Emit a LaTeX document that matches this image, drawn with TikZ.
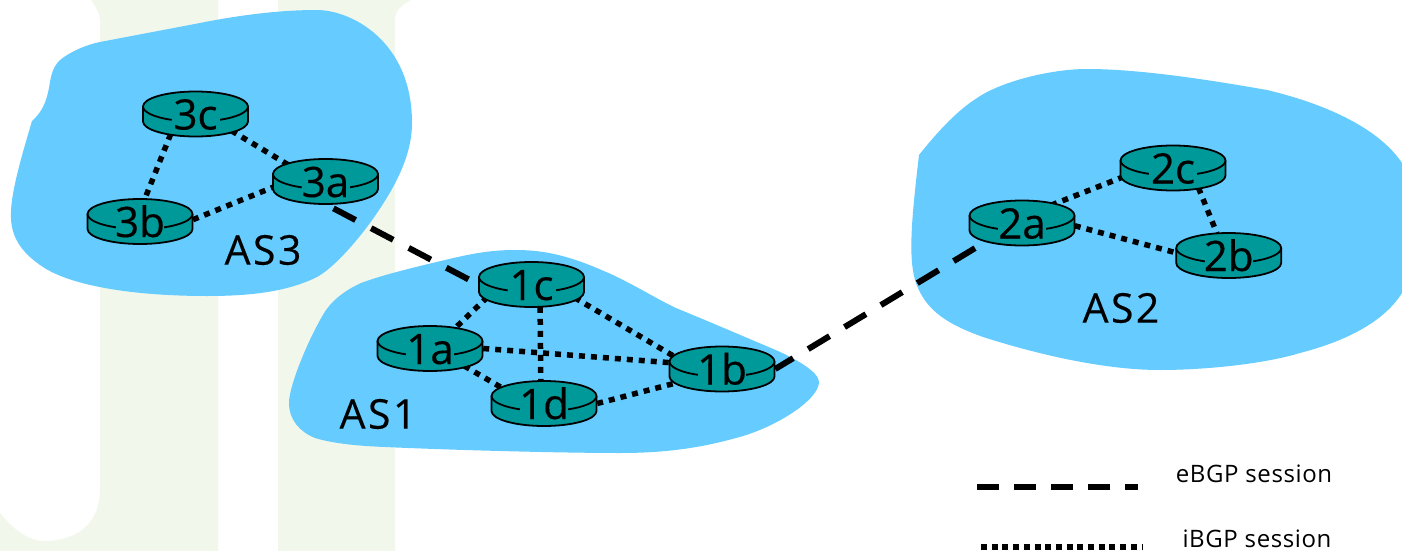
\documentclass[tikz,border=0pt]{standalone}
\usepackage{fontspec}
\setmainfont{Open Sans}
\newfontfamily\rfont[FakeBold=0.4]{Open Sans}
\newfontfamily\asfont[LetterSpace=6,FakeBold=0.3]{Open Sans}
\newfontfamily\lgfont[LetterSpace=2.5]{Open Sans}
\usetikzlibrary{shapes.geometric}
\definecolor{asblue}{HTML}{66CCFF}
\definecolor{rteal}{HTML}{009999}
\definecolor{wmark}{HTML}{F2F7EB}
\pgfdeclarelayer{ground}
\pgfdeclarelayer{links}
\pgfsetlayers{ground,links,main}
\tikzset{
  asblob/.style={fill=asblue,draw=none},
  routernode/.style={shape=ellipse,minimum width=106pt,minimum height=45pt,inner sep=0pt,
    text height=31pt,text depth=0pt,font=\rfont\fontsize{42}{42}\selectfont,text=black},
  rline/.style={draw=black,line width=1.8pt},
  ebgp/.style={draw=black,line width=6pt,dash pattern=on 25pt off 17.5pt},
  ibgp/.style={draw=black,line width=5.5pt,dash pattern=on 6pt off 6pt},
  aslabel/.style={font=\asfont\fontsize{41}{41}\selectfont,inner sep=0pt},
  legendlabel/.style={font=\lgfont\fontsize{24}{24}\selectfont,inner sep=0pt},
}
\newcommand{\router}[3]{%
  \begin{scope}[shift={(#2)}]
    \fill[rteal] (-52.5,7.5) arc[start angle=180,end angle=0,x radius=52.5,y radius=15]
      -- (52.5,-7.5) arc[start angle=360,end angle=180,x radius=52.5,y radius=15] -- cycle;
    \draw[rline] (-52.5,7.5) arc[start angle=180,end angle=0,x radius=52.5,y radius=15]
      -- (52.5,-7.5) arc[start angle=360,end angle=180,x radius=52.5,y radius=15] -- cycle;
    \draw[rline,fill=none] (-52.5,7.5) arc[start angle=180,end angle=243,x radius=52.5,y radius=15];
    \draw[rline,fill=none] (52.5,7.5) arc[start angle=0,end angle=-63,x radius=52.5,y radius=15];
    \fill[rteal] (-24,-8.5) rectangle (24,9);
  \end{scope}
  \node[routernode] (#1) at (#2) {#3};}
\begin{document}
\begin{tikzpicture}[x=1pt,y=1pt]
\useasboundingbox (0,-551) rectangle (1402,0);
\begin{pgfonlayer}{ground}
  \begin{scope}
    \clip (0,-551) rectangle (1402,0);
    \fill[white] (0,-551) rectangle (1402,0);
    % watermark behind the picture
    \fill[wmark] (0,-551) -- (0,-513) .. controls (14,-530) and (28,-541) .. (45,-541)
      .. controls (75,-541) and (100,-525) .. (100,-490) -- (100,-22)
      .. controls (100,-12) and (95,-6) .. (91,0) -- (218,0) -- (218,-551) -- cycle;
    \fill[wmark] (278,-551) -- (278,0) -- (411,0) .. controls (402,-5) and (395,-10) .. (395,-20) -- (395,-551) -- cycle;
    % AS3
    \fill[asblob] (32,-121) .. controls (42,-112) and (46,-103) .. (49,-88)
      .. controls (51,-76) and (52,-68) .. (60,-60)
      .. controls (70,-52) and (85,-45) .. (100,-42)
      -- (200,-23)
      .. controls (240,-15) and (280,-10) .. (317,-10)
      .. controls (350,-10) and (412,-40) .. (412,-123)
      .. controls (412,-160) and (390,-195) .. (370,-223)
      .. controls (350,-250) and (330,-270) .. (317,-277)
      .. controls (285,-293) and (245,-296) .. (207,-296)
      .. controls (130,-296) and (70,-285) .. (43,-267)
      .. controls (20,-252) and (10,-235) .. (11,-213)
      .. controls (11,-190) and (25,-145) .. (32,-121) -- cycle;
    % AS1
    \fill[asblob] (289,-403) .. controls (289,-385) and (310,-335) .. (326,-310)
      .. controls (335,-297) and (350,-288) .. (361,-283)
      .. controls (385,-274) and (420,-266) .. (445,-260)
      .. controls (470,-254) and (490,-250) .. (515,-250)
      .. controls (550,-250) and (575,-258) .. (613,-275)
      .. controls (640,-288) and (655,-298) .. (676,-308)
      .. controls (710,-322) and (745,-337) .. (771,-348)
      .. controls (795,-358) and (819,-372) .. (819,-382)
      .. controls (819,-400) and (775,-428) .. (736,-438)
      .. controls (700,-448) and (665,-453) .. (620,-453)
      .. controls (560,-453) and (450,-450) .. (385,-447)
      .. controls (360,-446) and (335,-444) .. (315,-438)
      .. controls (300,-432) and (289,-420) .. (289,-403) -- cycle;
    % AS2
    \fill[asblob] (919,-155) .. controls (935,-135) and (955,-112) .. (977,-98)
      .. controls (1000,-82) and (1050,-69) .. (1087,-69)
      .. controls (1140,-69) and (1210,-80) .. (1267,-90)
      .. controls (1330,-105) and (1380,-130) .. (1402,-163)
      .. controls (1420,-190) and (1425,-255) .. (1402,-293)
      .. controls (1385,-320) and (1350,-340) .. (1300,-353)
      .. controls (1260,-365) and (1200,-370) .. (1160,-370)
      .. controls (1100,-370) and (1030,-352) .. (983,-337)
      .. controls (950,-325) and (925,-312) .. (915,-280)
      .. controls (908,-255) and (912,-215) .. (919,-155) -- cycle;
  \end{scope}
\end{pgfonlayer}

\router{3c}{195.5,-114}{3c}
\router{3a}{325.5,-181.5}{3a}
\router{3b}{140,-221.5}{3b}
\router{1c}{531.5,-284.5}{1c}
\router{1a}{430,-348.5}{1a}
\router{1d}{544,-403.5}{1d}
\router{1b}{722,-369}{1b}
\router{2c}{1173,-168}{2c}
\router{2a}{1022,-223}{2a}
\router{2b}{1228.7,-255.5}{2b}

\node[aslabel] (as3) at (263,-250) {AS3};
\node[aslabel] (as1) at (378,-414) {AS1};
\node[aslabel] (as2) at (1121,-308) {AS2};

\coordinate (e1) at (977,-486.7);
\coordinate (e2) at (1138,-486.7);
\coordinate (i1) at (981,-547);
\coordinate (i2) at (1142,-547);
\node[legendlabel] (elabel) at (1254,-474) {eBGP session};
\node[legendlabel] (ilabel) at (1257,-538.5) {iBGP session};

\begin{pgfonlayer}{links}
  \draw[ebgp,dash phase=33.5pt] (3a.south) -- (1c.west);
  \draw[ebgp,dash phase=4pt] (1b.east) -- (2a.207);
  \draw[ibgp] (3c.219) -- (3b.78);
  \draw[ibgp] (3c.335) -- (3a.156);
  \draw[ibgp] (3b.2) -- (3a.186);
  \draw[ibgp] (1c.196) -- (1a.39);
  \draw[ibgp] (1c.291) -- (1d.98);
  \draw[ibgp] (1c.343) -- (1b.166);
  \draw[ibgp] (1a.0) -- (1b.173);
  \draw[ibgp] (1a.333) -- (1d.160);
  \draw[ibgp] (1d.0) -- (1b.197);
  \draw[ibgp] (2c.190) -- (2a.31);
  \draw[ibgp] (2c.322) -- (2b.118);
  \draw[ibgp] (2a.357) -- (2b.177);
  \draw[draw=black,line width=6pt,dash pattern=on 22pt off 15pt] (e1) -- (e2);
  \draw[draw=black,line width=6pt,dash pattern=on 6pt off 4.7pt] (i1) -- (i2);
\end{pgfonlayer}
\end{tikzpicture}
\end{document}
